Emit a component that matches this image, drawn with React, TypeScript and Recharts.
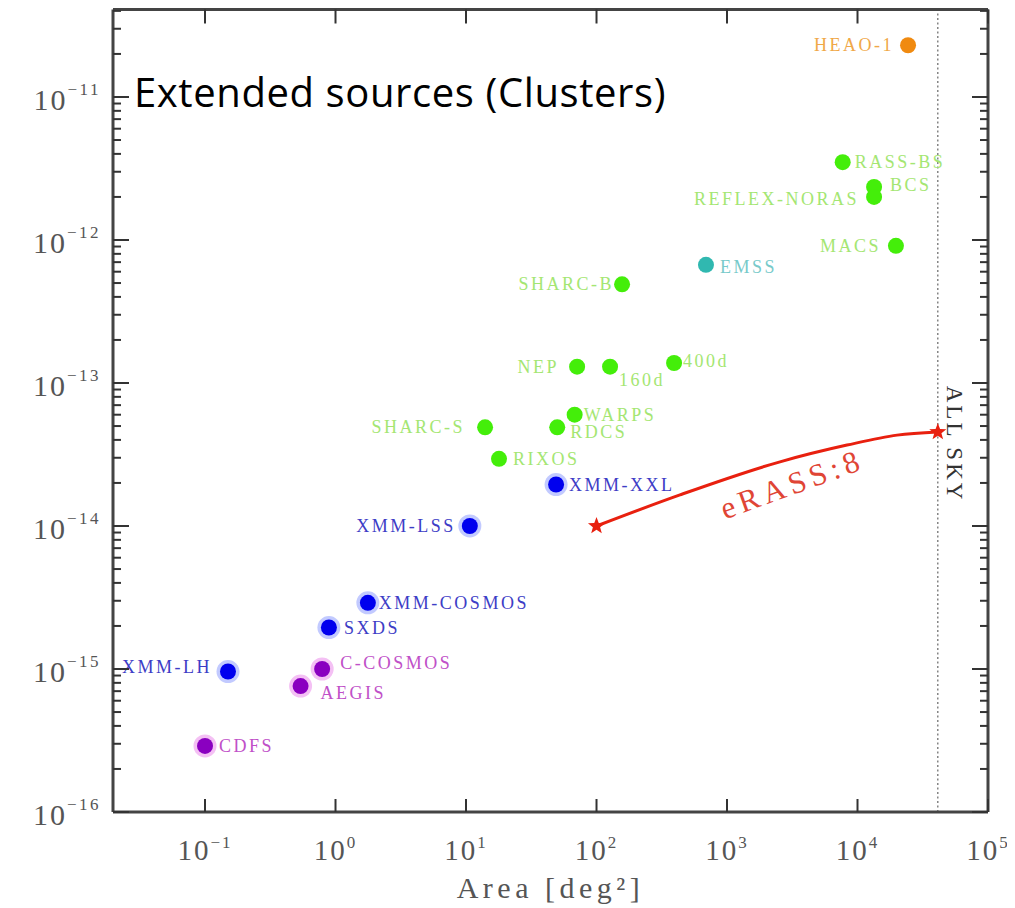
import React from 'react';
import { ScatterChart, Scatter, XAxis, YAxis, ReferenceLine, ReferenceDot } from 'recharts';

// ---------- data ----------
const greenNames = ['RASS-BS', 'BCS', 'REFLEX-NORAS', 'MACS', 'SHARC-B', 'NEP', '160d', '400d', 'WARPS', 'RDCS', 'SHARC-S', 'RIXOS'];
const greenArea = [7700, 13400, 13400, 19700, 157, 71, 127, 393, 68, 50, 14, 17.9];
const greenFlux = [3.5e-12, 2.35e-12, 2.0e-12, 9.1e-13, 4.9e-13, 1.3e-13, 1.3e-13, 1.38e-13, 6.0e-14, 4.9e-14, 4.9e-14, 2.95e-14];

const blueNames = ['XMM-XXL', 'XMM-LSS', 'XMM-COSMOS', 'SXDS', 'XMM-LH'];
const blueArea = [49, 10.7, 1.77, 0.89, 0.15];
const blueFlux = [1.95e-14, 1.0e-14, 2.9e-15, 1.95e-15, 9.6e-16];

const purpleNames = ['C-COSMOS', 'AEGIS', 'CDFS'];
const purpleArea = [0.79, 0.54, 0.1];
const purpleFlux = [1.0e-15, 7.6e-16, 2.9e-16];

const orangeNames = ['HEAO-1'];
const orangeArea = [24400];
const orangeFlux = [2.3e-11];

const tealNames = ['EMSS'];
const tealArea = [690];
const tealFlux = [6.7e-13];

const erassArea = [100, 436, 2547, 8310, 20090, 41253];
const erassFlux = [1.0e-14, 1.65e-14, 2.81e-14, 3.68e-14, 4.32e-14, 4.54e-14];

const allSkyArea = 41253;

const xDecades = [-1, 0, 1, 2, 3, 4, 5];
const yDecades = [-16, -15, -14, -13, -12, -11];
const minorSteps = [2, 3, 4, 5, 6, 7, 8, 9];

const xDomain = [0.01972, 1e5];
const yDomain = [1e-16, 4.09e-11];

// ---------- derived ----------
const mk = (names: string[], area: number[], flux: number[]) =>
  names.map((name, i) => ({ name, area: area[i], flux: flux[i] }));

const greenData = mk(greenNames, greenArea, greenFlux);
const blueData = mk(blueNames, blueArea, blueFlux);
const purpleData = mk(purpleNames, purpleArea, purpleFlux);
const orangeData = mk(orangeNames, orangeArea, orangeFlux);
const tealData = mk(tealNames, tealArea, tealFlux);
const erassData = erassArea.map((a, i) => ({ area: a, flux: erassFlux[i], idx: i }));

const xTicks = xDecades.map((e) => Math.pow(10, e));
const yTicks: number[] = [];
yDecades.forEach((e) => {
  yTicks.push(Math.pow(10, e));
  minorSteps.forEach((m) => {
    const v = m * Math.pow(10, e);
    if (v <= yDomain[1]) yTicks.push(v);
  });
});

const isMajor = (v: number) => {
  const l = Math.log10(v);
  return Math.abs(l - Math.round(l)) < 1e-6;
};
const expOf = (v: number) => Math.round(Math.log10(v));
const expText = (e: number) => (e < 0 ? '\u2212' + Math.abs(e) : String(e));

// label placement (style)
const labelPos: Record<string, [number, number, 'start' | 'end']> = {
  'HEAO-1': [-14, 6, 'end'],
  'RASS-BS': [12, 6, 'start'],
  'BCS': [16, 4, 'start'],
  'REFLEX-NORAS': [-15, 8, 'end'],
  'MACS': [-15, 6, 'end'],
  'EMSS': [14, 8, 'start'],
  'SHARC-B': [-8, 6, 'end'],
  'NEP': [-18, 6, 'end'],
  '160d': [9, 19, 'start'],
  '400d': [9, 4, 'start'],
  'WARPS': [9, 6, 'start'],
  'RDCS': [13, 11, 'start'],
  'SHARC-S': [-20, 6, 'end'],
  'RIXOS': [14, 6, 'start'],
  'XMM-XXL': [13, 6, 'start'],
  'XMM-LSS': [-14, 6, 'end'],
  'XMM-COSMOS': [11, 6, 'start'],
  'SXDS': [15, 6, 'start'],
  'XMM-LH': [-16, 1, 'end'],
  'C-COSMOS': [18, 0, 'start'],
  'AEGIS': [20, 13, 'start'],
  'CDFS': [14, 6, 'start'],
};

const SERIF = '"Liberation Serif", "DejaVu Serif", serif';
const TICK_COLOR = '#333';
const LABEL_GRAY = '#555';
const FRAME = { stroke: '#444', strokeWidth: 3 };

const makeShape = (fill: string, halo: string | null, labelColor: string) => (props: any) => {
  const { cx, cy, payload } = props;
  const pos = labelPos[payload.name] || [12, 6, 'start'];
  return (
    <g>
      {halo && <circle cx={cx} cy={cy} r={11.5} fill={halo} />}
      <circle cx={cx} cy={cy} r={8} fill={fill} />
      <text
        x={cx + pos[0]}
        y={cy + pos[1]}
        textAnchor={pos[2]}
        fill={labelColor}
        fontFamily={SERIF}
        fontSize={18}
        letterSpacing={2.5}
      >
        {payload.name}
      </text>
    </g>
  );
};

const starPoints = (cx: number, cy: number, R: number, r: number) => {
  const pts: string[] = [];
  for (let i = 0; i < 10; i++) {
    const ang = -Math.PI / 2 + (i * Math.PI) / 5;
    const rad = i % 2 === 0 ? R : r;
    pts.push(`${cx + rad * Math.cos(ang)},${cy + rad * Math.sin(ang)}`);
  }
  return pts.join(' ');
};

const erassShape = (props: any) => {
  const { cx, cy, payload } = props;
  if (payload.idx !== 0 && payload.idx !== erassArea.length - 1) return <g />;
  return <polygon points={starPoints(cx, cy, 9, 3.8)} fill="#e8200f" />;
};

// ---------- ticks ----------
const XTickBottom = (p: any) => {
  const { x, y, payload } = p;
  const e = expOf(payload.value);
  return (
    <g>
      <line x1={x} y1={y} x2={x} y2={y - 13} stroke={TICK_COLOR} strokeWidth={2} />
      <text x={x} y={y + 48} textAnchor="middle" fill={LABEL_GRAY} fontFamily={SERIF} fontSize={29} letterSpacing={2}>
        10
        <tspan dy={-12} fontSize={17}>{expText(e)}</tspan>
      </text>
    </g>
  );
};

const XTickTop = (p: any) => {
  const { x, y } = p;
  return <line x1={x} y1={y} x2={x} y2={y + 14} stroke={TICK_COLOR} strokeWidth={2} />;
};

const YTickLeft = (p: any) => {
  const { x, y, payload } = p;
  const major = isMajor(payload.value);
  const e = expOf(payload.value);
  return (
    <g>
      <line x1={x} y1={y} x2={x + (major ? 16 : 8)} y2={y} stroke={TICK_COLOR} strokeWidth={2} />
      {major && (
        <text x={x - 12} y={y + 13} textAnchor="end" fill={LABEL_GRAY} fontFamily={SERIF} fontSize={30} letterSpacing={2}>
          10
          <tspan dy={-15} fontSize={17} letterSpacing={2.5}>{expText(e)}</tspan>
        </text>
      )}
    </g>
  );
};

const YTickRight = (p: any) => {
  const { x, y, payload } = p;
  const major = isMajor(payload.value);
  return <line x1={x} y1={y} x2={x - (major ? 16 : 8)} y2={y} stroke={TICK_COLOR} strokeWidth={2} />;
};

const AxisTitle = (props: any) => {
  const vb = props.viewBox || {};
  return (
    <text
      x={vb.x + vb.width / 2}
      y={vb.y + 86}
      textAnchor="middle"
      fill={LABEL_GRAY}
      fontFamily={SERIF}
      fontSize={30}
      letterSpacing={4.5}
    >
      {'Area [deg\u00B2]'}
    </text>
  );
};

export default function App() {
  return (
    <div style={{ position: 'relative', width: 1007, height: 900 }}>
      <ScatterChart width={1007} height={900} margin={{ top: 0.5, right: 26, bottom: 0, left: 0 }}>
        <XAxis
          xAxisId="b"
          orientation="bottom"
          type="number"
          dataKey="area"
          scale="log"
          domain={xDomain}
          allowDataOverflow
          ticks={xTicks}
          interval={0}
          tickSize={0}
          tickMargin={0}
          tickLine={false}
          axisLine={FRAME}
          tick={XTickBottom}
          height={96}
          label={{ content: AxisTitle }}
        />
        <XAxis
          xAxisId="t"
          orientation="top"
          type="number"
          dataKey="area"
          scale="log"
          domain={xDomain}
          allowDataOverflow
          ticks={xTicks}
          interval={0}
          tickSize={0}
          tickMargin={0}
          tickLine={false}
          axisLine={FRAME}
          tick={XTickTop}
          height={1}
        />
        <YAxis
          yAxisId="l"
          orientation="left"
          type="number"
          dataKey="flux"
          scale="log"
          domain={yDomain}
          allowDataOverflow
          ticks={yTicks}
          interval={0}
          tickSize={0}
          tickMargin={0}
          tickLine={false}
          axisLine={FRAME}
          tick={YTickLeft}
          width={105}
        />
        <YAxis
          yAxisId="r"
          orientation="right"
          type="number"
          dataKey="flux"
          scale="log"
          domain={yDomain}
          allowDataOverflow
          ticks={yTicks}
          interval={0}
          tickSize={0}
          tickMargin={0}
          tickLine={false}
          axisLine={FRAME}
          tick={YTickRight}
          width={1}
        />
        <ReferenceLine
          xAxisId="b"
          yAxisId="l"
          x={allSkyArea}
          stroke="#666"
          strokeWidth={1.2}
          strokeDasharray="2 2.5"
        />
        <Scatter xAxisId="t" yAxisId="r" data={orangeData} isAnimationActive={false} shape={() => <g />} />
        <Scatter
          xAxisId="b"
          yAxisId="l"
          data={erassData}
          isAnimationActive={false}
          line={{ stroke: '#e8200f', strokeWidth: 3 }}
          lineJointType="monotoneX"
          shape={erassShape}
        />
        <Scatter xAxisId="b" yAxisId="l" data={greenData} isAnimationActive={false} shape={makeShape('#44ee0a', null, '#a4e672')} />
        <Scatter xAxisId="b" yAxisId="l" data={blueData} isAnimationActive={false} shape={makeShape('#0000ee', '#c2caff', '#3d3dc6')} />
        <Scatter xAxisId="b" yAxisId="l" data={purpleData} isAnimationActive={false} shape={makeShape('#8a00c0', '#f4c0f4', '#c050c8')} />
        <Scatter xAxisId="b" yAxisId="l" data={orangeData} isAnimationActive={false} shape={makeShape('#f08a10', null, '#f0a848')} />
        <Scatter xAxisId="b" yAxisId="l" data={tealData} isAnimationActive={false} shape={makeShape('#30b8b0', null, '#78caca')} />
        <ReferenceDot
          xAxisId="b"
          yAxisId="l"
          x={3150}
          y={1.97e-14}
          r={0}
          shape={(p: any) => (
            <text
              x={p.cx}
              y={p.cy}
              textAnchor="middle"
              dominantBaseline="central"
              transform={`rotate(-20, ${p.cx}, ${p.cy})`}
              fill="#e04535"
              fontFamily={SERIF}
              fontSize={31}
              letterSpacing={5}
            >
              eRASS:8
            </text>
          )}
        />
        <ReferenceDot
          xAxisId="b"
          yAxisId="l"
          x={55800}
          y={3.74e-14}
          r={0}
          shape={(p: any) => (
            <text
              x={p.cx}
              y={p.cy}
              textAnchor="middle"
              dominantBaseline="central"
              transform={`rotate(90, ${p.cx}, ${p.cy})`}
              fill="#333"
              fontFamily={SERIF}
              fontSize={23}
              letterSpacing={3}
            >
              ALL SKY
            </text>
          )}
        />
      </ScatterChart>
      <svg width={1007} height={900} style={{ position: 'absolute', left: 0, top: 0, pointerEvents: 'none' }}>
        <text x={126} y={99} fill="#000" fontFamily='"Open Sans", "Noto Sans", sans-serif' fontSize={40} letterSpacing={0.6}>
          Extended sources (Clusters)
        </text>
      </svg>
    </div>
  );
}
